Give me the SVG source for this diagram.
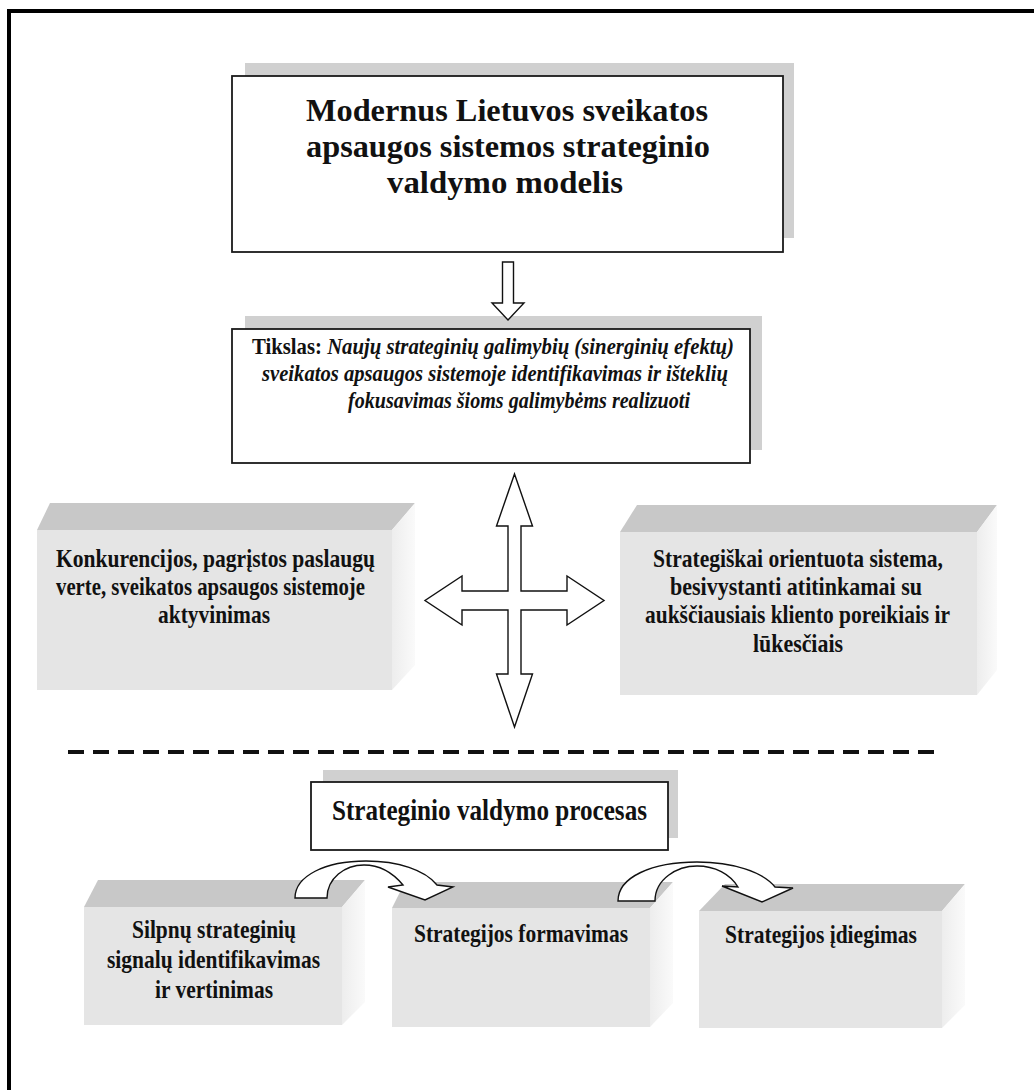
<svg xmlns="http://www.w3.org/2000/svg" width="1034" height="1090" viewBox="0 0 1034 1090">
  <defs>
    <style>
      .frame { fill: none; stroke: #000; stroke-width: 4; }
      .shadow { fill: #d0d0d0; }
      .box { fill: #fff; stroke: #1a1a1a; stroke-width: 1.8; }
      .top { fill: #c8c8c8; }
      .front { fill: #e5e5e5; }
      .side { fill: url(#sideFade); }
      .arrow { fill: #fff; stroke: #111; stroke-width: 1.4; stroke-linejoin: miter; }
      .sep { stroke: #111; stroke-width: 4; stroke-dasharray: 16 9; }
      text { font-family: "Liberation Serif", "Times New Roman", serif; font-weight: bold; fill: #111; }
      .t1 { font-size: 32px; }
      .t2 { font-size: 23px; }
      .t3 { font-size: 25px; }
      .t4 { font-size: 25px; }
      .t5 { font-size: 30px; }
    </style>
    <linearGradient id="sideFade" x1="0" y1="0" x2="1" y2="0">
      <stop offset="0" stop-color="#ededed"/>
      <stop offset="1" stop-color="#fafafa"/>
    </linearGradient>
  </defs>

  <rect width="1034" height="1090" fill="#fff"/>

  <!-- page frame (left and top edges) -->
  <path class="frame" d="M 9 1090 V 11 H 1034"/>

  <!-- title box -->
  <g id="title">
    <rect class="shadow" x="245" y="63" width="549" height="175"/>
    <rect class="box" x="232" y="76" width="551" height="176"/>
    <text class="t1" x="306" y="121" textLength="402" lengthAdjust="spacingAndGlyphs">Modernus Lietuvos sveikatos</text>
    <text class="t1" x="306" y="157" textLength="404" lengthAdjust="spacingAndGlyphs">apsaugos sistemos strateginio</text>
    <text class="t1" x="387" y="193" textLength="236" lengthAdjust="spacingAndGlyphs">valdymo modelis</text>
  </g>

  <!-- goal box -->
  <g id="goal">
    <rect class="shadow" x="245" y="316" width="517" height="134"/>
    <rect class="box" x="232" y="329" width="518" height="134"/>
    <text class="t2" x="252" y="354" textLength="482" lengthAdjust="spacingAndGlyphs"><tspan>Tikslas: </tspan><tspan font-style="italic">Naujų strateginių galimybių (sinerginių efektų)</tspan></text>
    <text class="t2" x="262" y="381" font-style="italic" textLength="466" lengthAdjust="spacingAndGlyphs">sveikatos apsaugos sistemoje identifikavimas ir išteklių</text>
    <text class="t2" x="348" y="408" font-style="italic" textLength="342" lengthAdjust="spacingAndGlyphs">fokusavimas šioms galimybėms realizuoti</text>
  </g>

  <!-- left block: competition -->
  <g id="competition">
    <polygon class="top" points="37,530 50,503 415,503 392,530"/>
    <polygon class="side" points="392,530 415,503 415,665 392,690"/>
    <rect class="front" x="37" y="530" width="355" height="160"/>
    <text class="t3" x="56" y="567" textLength="319" lengthAdjust="spacingAndGlyphs">Konkurencijos, pagrįstos paslaugų</text>
    <text class="t3" x="56" y="595" textLength="309" lengthAdjust="spacingAndGlyphs">verte, sveikatos apsaugos sistemoje</text>
    <text class="t3" x="158" y="623" textLength="112" lengthAdjust="spacingAndGlyphs">aktyvinimas</text>
  </g>

  <!-- right block: strategic system -->
  <g id="system">
    <polygon class="top" points="620,532 637,505 997,505 977,532"/>
    <polygon class="side" points="977,532 997,505 997,670 977,695"/>
    <rect class="front" x="620" y="532" width="357" height="163"/>
    <text class="t3" x="653" y="567" textLength="290" lengthAdjust="spacingAndGlyphs">Strategiškai orientuota sistema,</text>
    <text class="t3" x="670" y="595" textLength="252" lengthAdjust="spacingAndGlyphs">besivystanti atitinkamai su</text>
    <text class="t3" x="645" y="623" textLength="305" lengthAdjust="spacingAndGlyphs">aukščiausiais kliento poreikiais ir</text>
    <text class="t3" x="753" y="652" textLength="90" lengthAdjust="spacingAndGlyphs">lūkesčiais</text>
  </g>

  <!-- separator -->
  <g id="separator">
    <line class="sep" x1="68" y1="752" x2="940" y2="752"/>
  </g>

  <!-- process heading -->
  <g id="process">
    <rect class="shadow" x="323" y="770" width="355" height="68"/>
    <rect class="box" x="311" y="782" width="357" height="68"/>
    <text class="t5" x="332" y="820" textLength="315" lengthAdjust="spacingAndGlyphs">Strateginio valdymo procesas</text>
  </g>

  <!-- process step 1 -->
  <g id="signals">
    <polygon class="top" points="84,907 98,880 365,880 342,907"/>
    <polygon class="side" points="342,907 365,880 365,1002 342,1025"/>
    <rect class="front" x="84" y="907" width="258" height="118"/>
    <text class="t4" x="132" y="938" textLength="164" lengthAdjust="spacingAndGlyphs">Silpnų strateginių</text>
    <text class="t4" x="107" y="968" textLength="213" lengthAdjust="spacingAndGlyphs">signalų identifikavimas</text>
    <text class="t4" x="155" y="998" textLength="118" lengthAdjust="spacingAndGlyphs">ir vertinimas</text>
  </g>

  <!-- process step 2 -->
  <g id="formation">
    <polygon class="top" points="392,908 405,882 673,882 650,908"/>
    <polygon class="side" points="650,908 673,882 673,1003 650,1027"/>
    <rect class="front" x="392" y="908" width="258" height="119"/>
    <text class="t4" x="414" y="942" textLength="214" lengthAdjust="spacingAndGlyphs">Strategijos formavimas</text>
  </g>

  <!-- process step 3 -->
  <g id="implementation">
    <polygon class="top" points="699,911 725,884 965,884 942,911"/>
    <polygon class="side" points="942,911 965,884 965,1005 942,1028"/>
    <rect class="front" x="699" y="911" width="243" height="117"/>
    <text class="t4" x="725" y="943" textLength="192" lengthAdjust="spacingAndGlyphs">Strategijos įdiegimas</text>
  </g>

  <!-- connectors -->
  <g id="connectors">
    <!-- title to goal -->
    <polygon class="arrow" points="502.5,262 513.5,262 513.5,303 524,303 508,320 492,303 502.5,303"/>
    <!-- four-way arrow below the goal -->
    <polygon class="arrow" points="514.5,474 532.5,526 521,526 521,591 567,591 567,576 604,600.5 567,625 567,610 521,610 521,674 532.5,674 514.5,727 496.5,674 508,674 508,610 462,610 462,625 425,600.5 462,576 462,591 508,591 508,526 496.5,526"/>
    <!-- step 1 to step 2 -->
    <path class="arrow" d="M 295 898 C 295 876, 325 861, 366 861 C 398 861, 425 870, 437 885 L 453 887 L 425 900 L 388 887 L 403 885 C 393 873, 380 865, 364 865 C 345 865, 327 878, 327 898 Z"/>
    <!-- step 2 to step 3 -->
    <path class="arrow" d="M 618 901 C 618 877, 652 862, 697 862 C 733 862, 763 872, 775 887 L 793 888 L 762 902 L 722 886 L 738 887 C 730 874, 715 866, 697 866 C 677 866, 655 879, 655 901 Z"/>
  </g>
</svg>
